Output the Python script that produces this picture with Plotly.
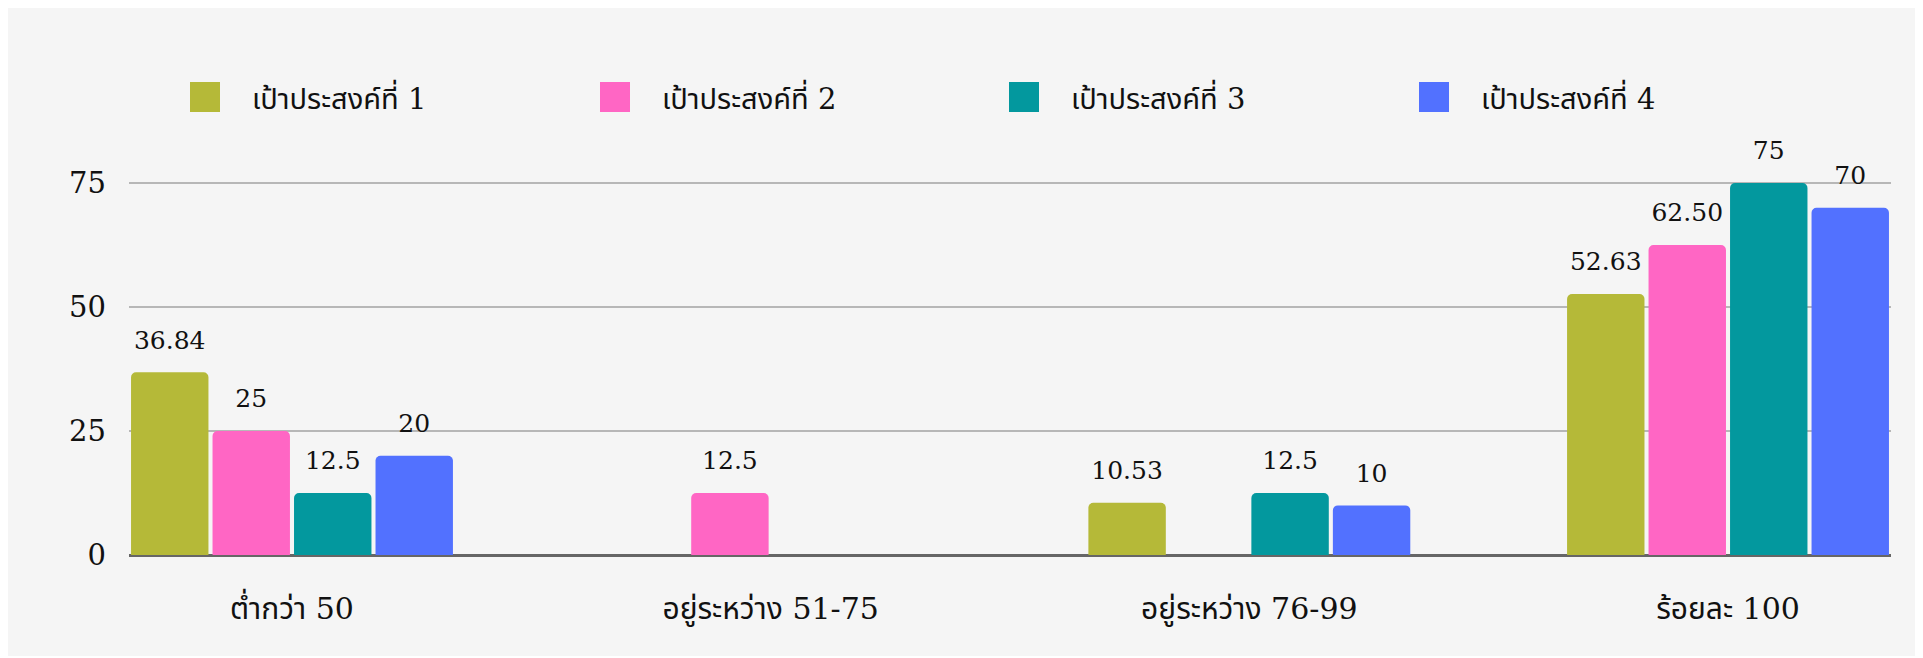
import plotly.graph_objects as go

categories = ["ต่ำกว่า 50", "อยู่ระหว่าง 51-75", "อยู่ระหว่าง 76-99", "ร้อยละ 100"]
series_names = ["เป้าประสงค์ที่ 1", "เป้าประสงค์ที่ 2", "เป้าประสงค์ที่ 3", "เป้าประสงค์ที่ 4"]
s1_values = [36.84, None, 10.53, 52.63]
s2_values = [25, 12.5, None, 62.50]
s3_values = [12.5, None, 12.5, 75]
s4_values = [20, None, 10, 70]
s1_labels = ["36.84", "", "10.53", "52.63"]
s2_labels = ["25", "12.5", "", "62.50"]
s3_labels = ["12.5", "", "12.5", "75"]
s4_labels = ["20", "", "10", "70"]
y_ticks = [0, 25, 50, 75]

colors = ["#b5b938", "#ff66c4", "#03989e", "#5271ff"]
FONT = "DejaVu Serif, Noto Sans Thai, Noto Serif Thai, serif"

# figure is placed at (8, 8) inside the page by the default body margin
W, H = 1915, 650
ML, MR, MT, MB = 121, 32, 170, 103
PW, PH = W - ML - MR, H - MT - MB
GAP = 0.319


def px_x(x):
    return (x - 8 - ML) / PW


def px_y(y):
    return (H - MB - (y - 8)) / PH


fig = go.Figure()
all_vals = [s1_values, s2_values, s3_values, s4_values]
all_labs = [s1_labels, s2_labels, s3_labels, s4_labels]
for i, (name, vals, col) in enumerate(zip(series_names, all_vals, colors)):
    fig.add_trace(go.Bar(
        x=categories, y=vals, name=name, marker=dict(color=col, line=dict(width=0)),
        offsetgroup=str(i), showlegend=False, hoverinfo="skip",
    ))
for i, (name, vals, labs) in enumerate(zip(series_names, all_vals, all_labs)):
    fig.add_trace(go.Scatter(
        x=categories, y=vals, mode="markers+text", text=labs, textposition="top center",
        marker=dict(size=26, opacity=0), offsetgroup=str(i), cliponaxis=False,
        textfont=dict(size=25, color="#111111", family=FONT), showlegend=False,
        hoverinfo="skip",
    ))

shapes = [dict(type="rect", xref="paper", yref="paper", x0=px_x(8), x1=px_x(1918),
               y0=px_y(656), y1=px_y(8), fillcolor="#f5f5f5", line=dict(width=0), layer="below")]
annotations = []
legend_x = [190, 600, 1009, 1419]
for lx, name, col in zip(legend_x, series_names, colors):
    shapes.append(dict(type="rect", xref="paper", yref="paper", x0=px_x(lx), x1=px_x(lx + 30),
                       y0=px_y(112), y1=px_y(82), fillcolor=col, line=dict(width=0)))
    annotations.append(dict(xref="paper", yref="paper", x=px_x(lx + 60), y=px_y(98),
                            xanchor="left", yanchor="middle", text=name, showarrow=False,
                            font=dict(size=29, color="#111111", family=FONT)))

fig.update_layout(
    width=W, height=H,
    margin=dict(l=ML, r=MR, t=MT, b=MB),
    paper_bgcolor="white", plot_bgcolor="rgba(0,0,0,0)",
    barmode="group", bargap=GAP, bargroupgap=0.05, barcornerradius=5,
    scattermode="group", scattergap=GAP,
    shapes=shapes, annotations=annotations,
    font=dict(family=FONT, color="#111111"),
)
fig.update_xaxes(range=[-0.3405, 3.3405], showgrid=False, ticks="", ticklabelstandoff=33,
                 tickfont=dict(size=30, color="#111111", family=FONT), showline=False)
fig.update_yaxes(range=[0, 76], tickvals=y_ticks, showgrid=True, gridcolor="#b7b7b7", gridwidth=2,
                 zeroline=True, zerolinecolor="#666666", zerolinewidth=3, ticks="",
                 ticklabelstandoff=22, tickfont=dict(size=29, color="#111111", family=FONT))

fig.write_html("out.html")
